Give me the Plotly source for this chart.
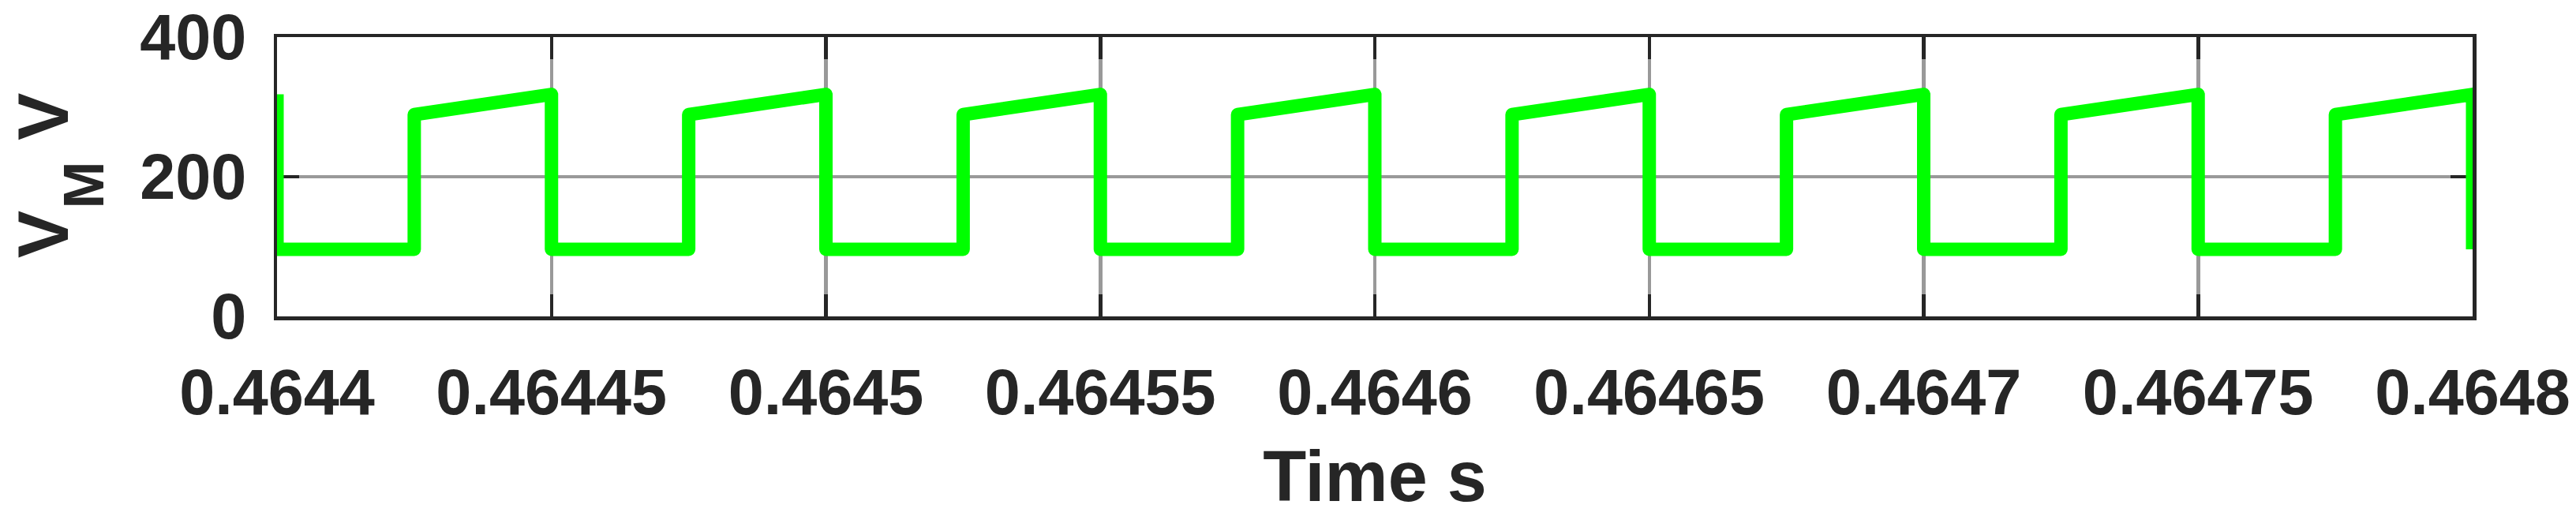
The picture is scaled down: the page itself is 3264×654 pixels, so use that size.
import plotly.graph_objects as go

# Waveform vertices (time in s, voltage in V)
time_s = [0.4644, 0.4644, 0.464425, 0.464425,
          0.46445, 0.46445, 0.464475, 0.464475,
          0.4645, 0.4645, 0.464525, 0.464525,
          0.46455, 0.46455, 0.464575, 0.464575,
          0.4646, 0.4646, 0.464625, 0.464625,
          0.46465, 0.46465, 0.464675, 0.464675,
          0.4647, 0.4647, 0.464725, 0.464725,
          0.46475, 0.46475, 0.464775, 0.464775,
          0.4648, 0.4648]
v_m = [318, 96, 96, 289,
       318, 96, 96, 289,
       318, 96, 96, 289,
       318, 96, 96, 289,
       318, 96, 96, 289,
       318, 96, 96, 289,
       318, 96, 96, 289,
       318, 96, 96, 289,
       318, 96]

x_tickvals = [0.4644, 0.46445, 0.4645, 0.46455, 0.4646, 0.46465, 0.4647, 0.46475, 0.4648]
x_ticktext = ["0.4644", "0.46445", "0.4645", "0.46455", "0.4646", "0.46465", "0.4647", "0.46475", "0.4648"]
y_tickvals = [0, 200, 400]
y_ticktext = ["0", "200", "400"]

FONT = "Liberation Sans, Arial, Helvetica, sans-serif"
DARK = "#262626"
GRID = "#999999"

fig = go.Figure()
fig.add_trace(go.Scatter(x=time_s, y=v_m, mode="lines",
                         line=dict(color="#00ff00", width=17),
                         hoverinfo="skip", showlegend=False))

axis_common = dict(
    showline=True, linecolor=DARK, linewidth=4.5, mirror="ticks",
    ticks="inside", ticklen=28, tickwidth=4.5, tickcolor=DARK,
    showgrid=True, gridcolor=GRID, gridwidth=4.5,
    zeroline=False, layer="below traces", automargin=False,
    tickfont=dict(family=FONT, size=81, color=DARK, weight="bold"),
)

fig.update_xaxes(range=[0.4644, 0.4648], tickmode="array",
                 tickvals=x_tickvals, ticktext=x_ticktext,
                 ticklabelstandoff=22,
                 title=dict(text="<b>Time s</b>", standoff=40,
                            font=dict(family=FONT, size=90, color=DARK)),
                 **axis_common)
fig.update_yaxes(range=[0, 400], tickmode="array",
                 tickvals=y_tickvals, ticktext=y_ticktext,
                 ticklabelstandoff=18,
                 **axis_common)

# y-axis label: V_M V (rotated)
fig.add_annotation(text="<b>V</b>", textangle=-90, xref="paper", yref="paper",
                   x=0, y=0, xanchor="center", yanchor="middle",
                   xshift=55 - 351, yshift=(401 - 297),
                   showarrow=False, font=dict(family=FONT, size=90, color=DARK))
fig.add_annotation(text="<b>M</b>", textangle=-90, xref="paper", yref="paper",
                   x=0, y=0, xanchor="center", yanchor="middle",
                   xshift=105.5 - 351, yshift=(401 - 235),
                   showarrow=False, font=dict(family=FONT, size=72, color=DARK))
fig.add_annotation(text="<b>V</b>", textangle=-90, xref="paper", yref="paper",
                   x=0, y=0, xanchor="center", yanchor="middle",
                   xshift=55 - 351, yshift=(401 - 147.8),
                   showarrow=False, font=dict(family=FONT, size=90, color=DARK))

fig.update_layout(width=3264, height=654,
                  margin=dict(l=351, r=131, t=47, b=253, pad=0, autoexpand=False),
                  plot_bgcolor="white", paper_bgcolor="white")

fig.write_html(
    "out.html",
    config={"displayModeBar": False, "staticPlot": True},
    post_script=(
        "document.body.style.margin='0';document.body.style.padding='0';"
        "document.querySelectorAll('.js-line').forEach(function(p){"
        "p.style.strokeLinejoin='round';});"
    ),
)
